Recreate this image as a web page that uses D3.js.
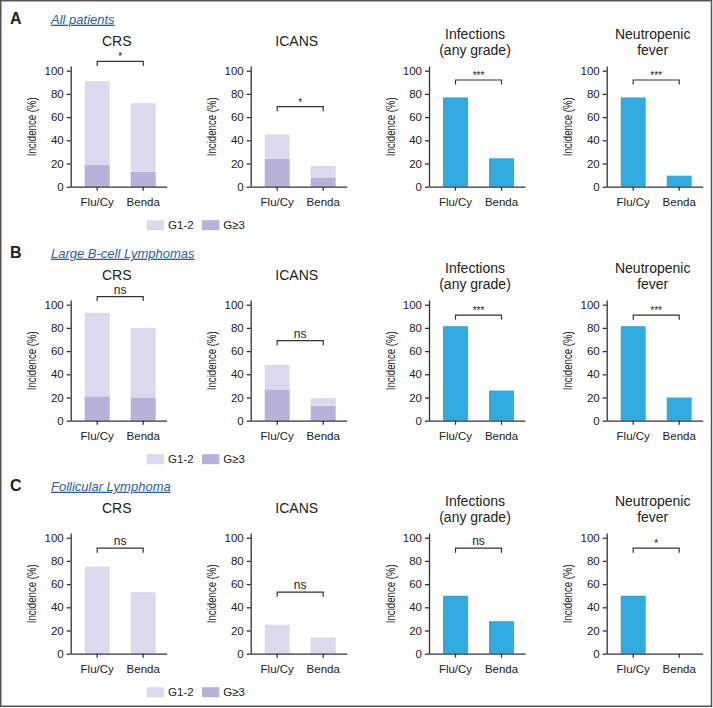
<!DOCTYPE html>
<html lang="en">
<head>
  <meta charset="utf-8">
  <title>Toxicity by lymphodepletion</title>
  <script src="https://d3js.org/d3.v7.min.js"></script>
  <style>
    body { margin: 0; background: #fff; }
    text { font-family: "Liberation Sans", Arial, sans-serif; fill: #222; }
    .axis path, .axis line { stroke: #333; stroke-width: 1.3; }
    .axis text { font-size: 11.5px; fill: #222; }
  </style>
</head>
<body>
<script>
  // data, one row per panel (A, B, C), values are Flu/Cy then Benda
  var categories = ["Flu/Cy", "Benda"];
  var panelLetters = ["A", "B", "C"];
  var panelNames = ["All patients", "Large B-cell Lymphomas", "Follicular Lymphoma"];
  var outcomeTitles = [["CRS"], ["ICANS"], ["Infections", "(any grade)"], ["Neutropenic", "fever"]];
  var gradeKeys = ["G1-2", "G\u22653"];
  var yTicks = [0, 20, 40, 60, 80, 100];

  var crsG12 = [[72, 59], [72, 60], [75, 53]];
  var crsG3 = [[19, 13], [21, 20], [0, 0]];
  var icansG12 = [[21, 10], [21, 6.5], [25, 14]];
  var icansG3 = [[24, 8], [27, 13], [0, 0]];
  var infections = [[77, 24.5], [81.5, 26], [50, 28]];
  var neutropenicFever = [[77, 9.5], [81.5, 20], [50, 0]];

  var sigLabels = [["*", "*", "***", "***"], ["ns", "ns", "***", "***"], ["ns", "ns", "ns", "*"]];
  var bracketLevels = [[108, 69, 92, 92], [107, 69, 91, 91], [91, 53, 91, 91]];

  var width = 713, height = 708;
  var light = "#dcd9ee", dark = "#b8b1da", blue = "#31aae1";

  // layout
  var rowBase = [186.7, 420.7, 653.7];
  var colAxis = [70.7, 250.7, 429, 606.7];
  var plotH = 116, plotW = 96;

  var svg = d3.select("body").append("svg")
    .attr("width", width)
    .attr("height", height);

  svg.append("rect")
    .attr("x", 0.75).attr("y", 0.75)
    .attr("width", 710.75).attr("height", 705.5)
    .attr("fill", "none").attr("stroke", "#555").attr("stroke-width", 1.5);

  var x = d3.scaleBand().domain(categories).range([0, plotW])
    .paddingInner(0.4565).paddingOuter(0.2717).align(0.56);

  panelLetters.forEach(function(letter, r) {
    var y = d3.scaleLinear().domain([0, 104]).range([rowBase[r], rowBase[r] - plotH * 1.04]);
    var top = y(100);

    svg.append("text")
      .attr("x", 10).attr("y", top - 47)
      .style("font-size", "16px").style("font-weight", "bold")
      .text(letter);

    svg.append("text")
      .attr("x", 51).attr("y", top - 47)
      .style("font-size", "13px").style("font-style", "italic")
      .style("fill", "#2b5f9e").style("text-decoration", "underline")
      .text(panelNames[r]);

    var series = [
      [crsG12[r], crsG3[r]],
      [icansG12[r], icansG3[r]],
      [infections[r]],
      [neutropenicFever[r]]
    ];

    series.forEach(function(s, c) {
      var g = svg.append("g").attr("transform", "translate(" + colAxis[c] + ",0)");

      // title
      var lines = outcomeTitles[c];
      g.selectAll("text.title").data(lines).enter().append("text")
        .attr("class", "title")
        .attr("x", 46)
        .attr("y", function(d, i) {
          return lines.length == 1 ? top - 24.5 : top - 28 + (i - 0.5) * 16.5 + 4.5;
        })
        .attr("text-anchor", "middle")
        .style("font-size", "14px")
        .text(function(d) { return d; });

      // bars
      if (s.length == 2) {
        var rows = categories.map(function(cat, i) {
          var o = { cat: cat };
          o[gradeKeys[0]] = s[0][i];
          o[gradeKeys[1]] = s[1][i];
          return o;
        });
        var layers = d3.stack().keys([gradeKeys[1], gradeKeys[0]])(rows);
        g.selectAll("g.layer").data(layers).enter().append("g")
          .attr("class", "layer")
          .attr("fill", function(d) { return d.key == gradeKeys[1] ? dark : light; })
          .selectAll("rect").data(function(d) { return d; }).enter().append("rect")
          .attr("x", function(d) { return x(d.data.cat); })
          .attr("width", x.bandwidth())
          .attr("y", function(d) { return y(d[1]); })
          .attr("height", function(d) { return y(d[0]) - y(d[1]); });
      } else {
        g.selectAll("rect").data(s[0]).enter().append("rect")
          .attr("x", function(d, i) { return x(categories[i]); })
          .attr("width", x.bandwidth())
          .attr("y", function(d) { return y(d); })
          .attr("height", function(d) { return y(0) - y(d); })
          .attr("fill", blue);
      }

      // axes
      g.append("g").attr("class", "axis")
        .call(d3.axisLeft(y).tickValues(yTicks).tickSize(4).tickSizeOuter(0).tickPadding(3));
      g.append("g").attr("class", "axis")
        .attr("transform", "translate(0," + y(0) + ")")
        .call(d3.axisBottom(x).tickSize(4).tickSizeOuter(0).tickPadding(7.5));

      // y label (condensed)
      g.append("text")
        .attr("transform", "translate(-39," + (top + plotH / 2 - 2) + ") rotate(-90)")
        .attr("text-anchor", "middle")
        .attr("dy", "0.35em")
        .attr("textLength", 59).attr("lengthAdjust", "spacingAndGlyphs")
        .style("font-size", "13px")
        .text("Incidence (%)");

      // significance bracket
      var by = y(bracketLevels[r][c]);
      var x1 = x(categories[0]) + x.bandwidth() / 2, x2 = x(categories[1]) + x.bandwidth() / 2;
      g.append("path")
        .attr("d", "M" + x1 + "," + (by + 4.5) + "V" + by + "H" + x2 + "V" + (by + 4.5))
        .attr("fill", "none").attr("stroke", "#333").attr("stroke-width", 1.2);
      var lab = sigLabels[r][c];
      g.append("text")
        .attr("x", (x1 + x2) / 2)
        .attr("y", lab == "ns" ? by - 3 : by - 1)
        .attr("text-anchor", "middle")
        .style("font-size", lab == "ns" ? "12px" : "10px")
        .text(lab);
    });

    // legend
    var leg = svg.append("g").attr("transform", "translate(146.7," + (rowBase[r] + 38.5) + ")");
    var legX = [0, 55.3];
    gradeKeys.forEach(function(k, i) {
      leg.append("rect")
        .attr("x", legX[i]).attr("y", -5)
        .attr("width", 17.3).attr("height", 10)
        .attr("fill", i == 0 ? light : dark);
      leg.append("text")
        .attr("x", legX[i] + 21.3).attr("y", 0)
        .attr("dy", "0.35em")
        .style("font-size", "11.5px")
        .text(k);
    });
  });
</script>
</body>
</html>
